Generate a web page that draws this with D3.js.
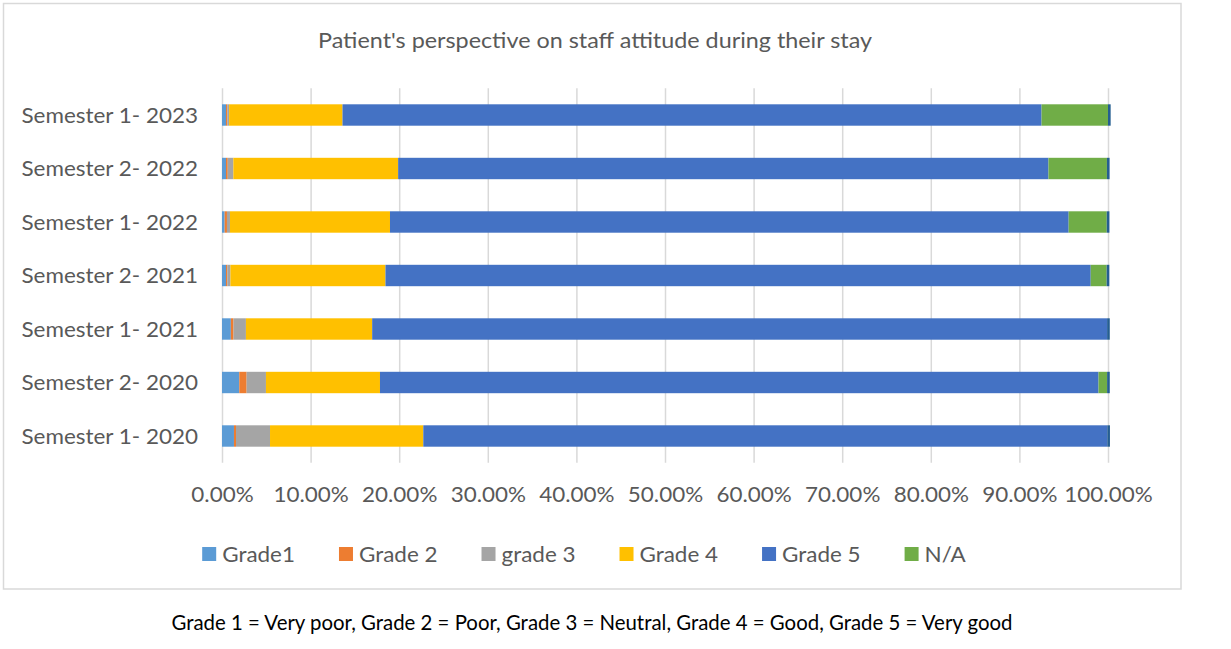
<!DOCTYPE html>
<html>
<head>
<meta charset="utf-8">
<script src="https://cdn.jsdelivr.net/npm/d3@7"></script>
<style>
  html, body { margin: 0; padding: 0; background: #ffffff; }
  svg { display: block; }
  text { font-family: Lato, "Open Sans", "Liberation Sans", sans-serif; }
</style>
</head>
<body>
<svg id="chart" width="1231" height="649"></svg>
<script>
// ---- data (percent of responses) ----
const categories = ["Semester 1- 2020", "Semester 2- 2020", "Semester 1- 2021", "Semester 2- 2021",
                    "Semester 1- 2022", "Semester 2- 2022", "Semester 1- 2023"];
const seriesNames = ["Grade1", "Grade 2", "grade 3", "Grade 4", "Grade 5", "N/A"];
const grade1 = [1.35, 1.95, 1.00, 0.45, 0.30, 0.45, 0.45];
const grade2 = [0.23, 0.83, 0.30, 0.15, 0.26, 0.20, 0.15];
const grade3 = [3.84, 2.18, 1.40, 0.35, 0.34, 0.63, 0.20];
const grade4 = [17.30, 12.87, 14.25, 17.50, 18.06, 18.60, 12.80];
const grade5 = [77.20, 81.10, 82.95, 79.60, 76.60, 73.40, 78.90];
const gradeNA = [0.00, 0.97, 0.00, 1.80, 4.30, 6.60, 7.50];
const unlabeled = [0.30, 0.30, 0.30, 0.30, 0.30, 0.30, 0.30]; // thin sliver past 100%, no legend entry
const xTicks = [0, 0.1, 0.2, 0.3, 0.4, 0.5, 0.6, 0.7, 0.8, 0.9, 1.0];
const titleText = "Patient's perspective on staff attitude during their stay";
const captionText = "Grade 1 = Very poor, Grade 2 = Poor, Grade 3 = Neutral, Grade 4 = Good, Grade 5 = Very good";

const colors = ["#5B9BD5", "#ED7D31", "#A5A5A5", "#FFC000", "#4472C4", "#70AD47", "#255E91"];

// ---- build table ----
const keys = ["g1", "g2", "g3", "g4", "g5", "na", "extra"];
const cols = [grade1, grade2, grade3, grade4, grade5, gradeNA, unlabeled];
const table = categories.map((c, i) => {
  const row = { cat: c };
  keys.forEach((k, j) => row[k] = cols[j][i] / 100);
  return row;
});

const svg = d3.select("#chart");
const textColor = "#595959";
const gridColor = "#D9D9D9";

// frame
svg.append("rect").attr("x", 3.5).attr("y", 3.5).attr("width", 1177.5).attr("height", 585.5)
  .attr("fill", "#fff").attr("stroke", gridColor).attr("stroke-width", 1.5);

const plot = { left: 222, right: 1108, top: 88.25, bottom: 462.75 };

const x = d3.scaleLinear().domain([0, 1]).range([plot.left, plot.right]);
const y = d3.scaleBand().domain(categories.slice().reverse())
  .range([plot.top, plot.bottom]).paddingInner(0.6).paddingOuter(0.3);

// helpers: stretch text to a Calibri-like width
function fitRatio(sel, ratio) {
  sel.each(function () {
    const w = this.getComputedTextLength();
    d3.select(this).attr("textLength", w * ratio).attr("lengthAdjust", "spacingAndGlyphs");
  });
}
function fitTo(sel, width) {
  sel.attr("textLength", width).attr("lengthAdjust", "spacingAndGlyphs");
}
const labelRatio = 1.02;

// grid + x axis
const xAxis = d3.axisBottom(x).tickValues(xTicks).tickFormat(d3.format(".2%"))
  .tickSizeInner(-(plot.bottom - plot.top)).tickSizeOuter(0).tickPadding(24);
const gx = svg.append("g").attr("transform", `translate(0,${plot.bottom})`).call(xAxis);
gx.select(".domain").remove();
gx.selectAll(".tick line").attr("stroke", gridColor).attr("stroke-width", 1.5);
gx.selectAll(".tick text").attr("fill", textColor).attr("font-size", 22)
  .attr("font-family", "Lato, 'Open Sans', sans-serif");
fitRatio(gx.selectAll(".tick text"), labelRatio);

// bars
const stack = d3.stack().keys(keys)(table);
svg.append("g").selectAll("g").data(stack).join("g")
  .attr("fill", (d, i) => colors[i])
  .selectAll("rect").data(d => d).join("rect")
  .attr("x", d => x(d[0]))
  .attr("width", d => Math.max(0, x(d[1]) - x(d[0])))
  .attr("y", d => y(d.data.cat))
  .attr("height", y.bandwidth());

// y labels
const yl = svg.append("g").selectAll("text").data(categories).join("text")
  .attr("x", 198).attr("y", d => y(d) + y.bandwidth() / 2).attr("dy", "0.36em")
  .attr("text-anchor", "end").attr("fill", textColor).attr("font-size", 22)
  .text(d => d);
fitTo(yl, 176.5);

// title
const t = svg.append("text").attr("x", 595).attr("y", 47.5).attr("text-anchor", "middle")
  .attr("fill", textColor).attr("font-size", 21.5).text(titleText);
fitTo(t, 554);

// legend
const leg = svg.append("g");
const items = leg.selectAll("g").data(seriesNames).join("g");
items.append("rect").attr("width", 14).attr("height", 14).attr("y", 547)
  .attr("fill", (d, i) => colors[i]);
items.append("text").attr("x", 20).attr("y", 561.5).attr("fill", textColor)
  .attr("font-size", 22).text(d => d);
fitRatio(items.selectAll("text"), labelRatio);
const widths = [];
items.each(function () {
  const tw = +d3.select(this).select("text").attr("textLength");
  widths.push(20 + tw);
});
const gap = 44;
const total = d3.sum(widths) + gap * (widths.length - 1);
let start = 584 - total / 2;
items.attr("transform", (d, i) => {
  const tx = start;
  start += widths[i] + gap;
  return `translate(${tx},0)`;
});

// caption
const cap = svg.append("text").attr("x", 592).attr("y", 630).attr("text-anchor", "middle")
  .attr("fill", "#000").attr("font-size", 21).text(captionText);
fitTo(cap, 841);
</script>
</body>
</html>
